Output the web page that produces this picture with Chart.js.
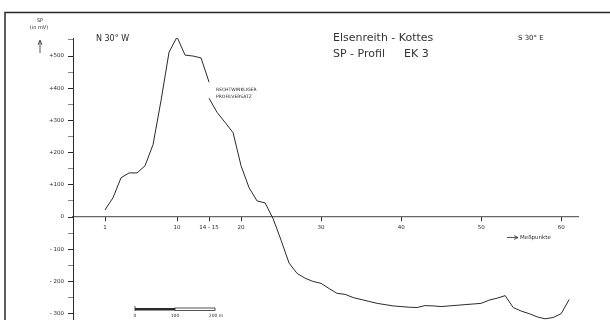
<!DOCTYPE html>
<html>
<head>
<meta charset="utf-8">
<script src="https://cdn.jsdelivr.net/npm/chart.js@4/dist/chart.umd.min.js"></script>
<style>
  html, body { margin: 0; padding: 0; background: #fff; }
  #wrap { width: 610px; height: 320px; position: relative; overflow: hidden; }
</style>
</head>
<body>
<div id="wrap"><canvas id="c" width="610" height="329"></canvas></div>
<script>
// positions along the profile (graph units, 14-15 share one spot)
const xNorth = [1, 2, 3, 4, 5, 6, 7, 8, 9, 10, 11, 12, 13, 14];
const spNorth = [22, 60, 122, 137, 137, 159, 225, 362, 512, 559, 503, 500, 494, 419];

const xSouth = [14, 15, 16, 17, 18, 19, 20, 21, 22, 23, 24, 25, 26, 27, 28, 29, 30,
  31, 32, 33, 34, 35, 36, 37, 38, 39, 40, 41, 42, 43, 44, 45, 46, 47, 48, 49, 50,
  51, 52, 53, 54, 55, 56, 57, 58, 59];
const spSouth = [369, 325, 294, 262, 159, 91, 50, 44, -5, -72, -143, -175, -190, -200,
  -206, -222, -237, -240, -250, -256, -262, -268, -272, -276, -278, -280, -281, -275,
  -276, -278, -276, -274, -272, -270, -268, -258, -252, -244, -281, -292, -300, -310,
  -316, -312, -300, -256];

const xTickPos = [1, 10, 14, 18, 28, 38, 48, 58];
const xTickLabels = ["1", "10", "14 - 15", "20", "30", "40", "50", "60"];

const yTickPos = [500, 400, 300, 200, 100, 0, -100, -200, -300];
const yTickLabels = ["+500", "+400", "+300", "+200", "+100", "0", "- 100", "- 200", "- 300"];

const ink = "#2a2a2a";

const toPoints = (xs, ys) => xs.map((x, i) => ({ x, y: ys[i] }));

const notes = {
  id: "notes",
  afterDraw(chart) {
    const c = chart.ctx;
    c.save();
    c.fillStyle = ink;
    c.strokeStyle = ink;
    // frame
    c.lineWidth = 1.5;
    c.beginPath();
    c.moveTo(5, 330); c.lineTo(5, 12.5); c.lineTo(610, 12.5);
    c.stroke();

    c.textBaseline = "middle";
    c.textAlign = "center";
    c.font = "5px 'DejaVu Sans'";
    c.fillText("SP", 40, 21);
    c.fillText("(in mV)", 39, 28);
    c.lineWidth = 0.8;
    c.beginPath();
    c.moveTo(40, 53); c.lineTo(40, 41);
    c.moveTo(38, 45); c.lineTo(40, 40); c.lineTo(42, 45);
    c.stroke();

    c.textAlign = "left";
    c.font = "8px 'DejaVu Sans'";
    c.fillText("N 30° W", 96, 39);
    c.font = "7px 'DejaVu Sans'";
    c.fillText("S 30° E", 518, 38);

    c.fillStyle = "#333";
    c.font = "11px 'DejaVu Sans'";
    c.fillText("Elsenreith - Kottes", 333, 38);
    c.fillText("SP - Profil", 333, 54);
    c.fillText("EK 3", 404, 54);
    c.fillStyle = ink;

    c.font = "4.5px 'DejaVu Sans'";
    c.fillText("RECHTWINKLIGER", 216, 90);
    c.fillText("PROFILVERSATZ", 216, 97);

    // measuring points note
    c.lineWidth = 0.8;
    c.beginPath();
    c.moveTo(507, 237.5); c.lineTo(518, 237.5);
    c.moveTo(514, 235.5); c.lineTo(518, 237.5); c.lineTo(514, 239.5);
    c.stroke();
    c.font = "5.5px 'DejaVu Sans'";
    c.fillText("Meßpunkte", 520, 237.5);

    // scale bar
    c.fillRect(135, 308, 40, 2.5);
    c.lineWidth = 0.8;
    c.strokeRect(175, 308, 40, 2.5);
    c.beginPath();
    c.moveTo(135, 306); c.lineTo(135, 311);
    c.stroke();
    c.textAlign = "center";
    c.font = "4.5px 'DejaVu Sans'";
    c.fillText("0", 135, 316);
    c.fillText("100", 175, 316);
    c.fillText("200 m", 216, 316);
    c.restore();
  }
};

new Chart(document.getElementById("c"), {
  type: "line",
  data: {
    datasets: [
      { data: toPoints(xNorth, spNorth) },
      { data: toPoints(xSouth, spSouth) }
    ]
  },
  options: {
    responsive: false,
    animation: false,
    layout: { padding: { left: 0, top: 38, right: 32, bottom: 0 } },
    elements: {
      line: { borderColor: ink, borderWidth: 1, tension: 0 },
      point: { radius: 0 }
    },
    plugins: { legend: { display: false }, tooltip: { enabled: false } },
    scales: {
      x: {
        type: "linear",
        position: { y: 0 },
        min: -3,
        max: 60.1,
        afterBuildTicks: (s) => { s.ticks = xTickPos.map((v) => ({ value: v })); },
        ticks: {
          autoSkip: false,
          maxRotation: 0,
          padding: 3,
          color: ink,
          font: { family: "DejaVu Sans", size: 5.5 },
          callback: (v) => xTickLabels[xTickPos.indexOf(v)]
        },
        grid: { drawOnChartArea: false, tickLength: 4, color: ink },
        border: { color: "#666", width: 1.2 }
      },
      y: {
        min: -325,
        max: 556,
        afterFit: (s) => { s.width = 73; },
        afterBuildTicks: (s) => {
          const t = [];
          for (let v = -300; v <= 550; v += 50) t.push({ value: v });
          s.ticks = t;
        },
        ticks: {
          autoSkip: false,
          padding: 4,
          color: ink,
          font: { family: "DejaVu Sans", size: 5.5 },
          callback: (v) => {
            const i = yTickPos.indexOf(v);
            return i < 0 ? "" : yTickLabels[i];
          }
        },
        grid: {
          drawOnChartArea: false,
          tickLength: 5,
          color: (ctx) => (yTickPos.includes(ctx.tick && ctx.tick.value) ? ink : "#888")
        },
        border: { color: ink, width: 1 }
      }
    }
  },
  plugins: [notes]
});
</script>
</body>
</html>
